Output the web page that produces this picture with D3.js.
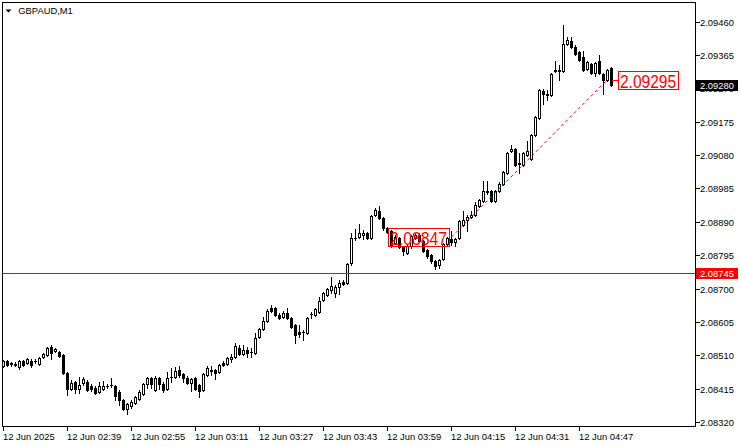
<!DOCTYPE html>
<html><head><meta charset="utf-8">
<script src="https://cdn.jsdelivr.net/npm/d3@7"></script>
<style>body{margin:0;background:#fff}svg{display:block}text{font-family:"Liberation Sans",Arial,sans-serif}</style>
</head><body><svg id="c" width="741" height="447"></svg>
<script>
const symbolTitle = "GBPAUD,M1";
const opens = [2.08480,2.08494,2.08489,2.08483,2.08477,2.08494,2.08489,2.08494,2.08493,2.08486,
2.08506,2.08512,2.08534,2.08523,2.08520,2.08512,2.08460,2.08415,2.08435,2.08415,
2.08432,2.08435,2.08423,2.08418,2.08406,2.08415,2.08422,2.08425,2.08423,2.08406,
2.08384,2.08358,2.08366,2.08375,2.08386,2.08401,2.08429,2.08446,2.08412,2.08446,
2.08429,2.08415,2.08449,2.08449,2.08469,2.08457,2.08446,2.08432,2.08446,2.08426,
2.08412,2.08455,2.08467,2.08469,2.08463,2.08489,2.08486,2.08500,2.08506,2.08531,
2.08514,2.08526,2.08520,2.08517,2.08563,2.08585,2.08608,2.08645,2.08645,2.08625,
2.08620,2.08631,2.08617,2.08597,2.08577,2.08577,2.08574,2.08627,2.08625,2.08634,
2.08668,2.08682,2.08696,2.08688,2.08705,2.08719,2.08716,2.08773,2.08843,2.08847,
2.08853,2.08858,2.08844,2.08910,2.08921,2.08901,2.08873,2.08864,2.08830,2.08844,
2.08819,2.08802,2.08822,2.08844,2.08853,2.08836,2.08810,2.08796,2.08779,2.08767,
2.08785,2.08827,2.08841,2.08833,2.08844,2.08881,2.08895,2.08904,2.08910,2.08935,
2.08949,2.08976,2.08978,2.08949,2.08978,2.08998,2.09029,2.09092,2.09097,2.09056,
2.09052,2.09080,2.09069,2.09137,2.09186,2.09262,2.09254,2.09251,2.09319,2.09319,
2.09319,2.09396,2.09404,2.09387,2.09373,2.09359,2.09325,2.09339,2.09313,2.09348,
2.09311,2.09294,2.09328];
const highs = [2.08497,2.08497,2.08492,2.08492,2.08497,2.08497,2.08503,2.08500,2.08500,2.08506,
2.08517,2.08534,2.08540,2.08531,2.08523,2.08514,2.08463,2.08440,2.08438,2.08449,
2.08449,2.08440,2.08429,2.08423,2.08435,2.08438,2.08429,2.08446,2.08426,2.08412,
2.08386,2.08375,2.08384,2.08395,2.08412,2.08432,2.08449,2.08449,2.08452,2.08449,
2.08435,2.08463,2.08475,2.08477,2.08480,2.08460,2.08452,2.08446,2.08449,2.08429,
2.08460,2.08480,2.08480,2.08472,2.08486,2.08494,2.08506,2.08514,2.08546,2.08540,
2.08540,2.08534,2.08531,2.08574,2.08588,2.08620,2.08642,2.08654,2.08648,2.08631,
2.08637,2.08645,2.08620,2.08600,2.08597,2.08583,2.08620,2.08634,2.08645,2.08676,
2.08691,2.08702,2.08733,2.08711,2.08725,2.08725,2.08773,2.08858,2.08870,2.08884,
2.08867,2.08861,2.08910,2.08930,2.08935,2.08904,2.08876,2.08867,2.08853,2.08847,
2.08822,2.08824,2.08853,2.08856,2.08858,2.08839,2.08813,2.08799,2.08782,2.08785,
2.08830,2.08847,2.08864,2.08844,2.08895,2.08921,2.08910,2.08921,2.08947,2.08955,
2.09006,2.09006,2.08981,2.08981,2.09003,2.09035,2.09089,2.09109,2.09100,2.09086,
2.09089,2.09120,2.09140,2.09191,2.09268,2.09268,2.09265,2.09313,2.09348,2.09336,
2.09450,2.09416,2.09416,2.09393,2.09376,2.09376,2.09348,2.09342,2.09345,2.09365,
2.09313,2.09325,2.09331];
const lows = [2.08477,2.08480,2.08480,2.08480,2.08472,2.08480,2.08486,2.08477,2.08489,2.08483,
2.08503,2.08509,2.08500,2.08520,2.08506,2.08457,2.08398,2.08412,2.08403,2.08403,
2.08426,2.08409,2.08409,2.08401,2.08403,2.08412,2.08418,2.08420,2.08384,2.08369,
2.08355,2.08344,2.08361,2.08372,2.08384,2.08398,2.08418,2.08418,2.08409,2.08415,
2.08406,2.08412,2.08435,2.08446,2.08449,2.08435,2.08429,2.08409,2.08412,2.08392,
2.08409,2.08452,2.08455,2.08443,2.08460,2.08480,2.08483,2.08492,2.08503,2.08512,
2.08512,2.08506,2.08506,2.08514,2.08560,2.08583,2.08605,2.08634,2.08622,2.08614,
2.08617,2.08614,2.08588,2.08546,2.08563,2.08554,2.08571,2.08617,2.08622,2.08631,
2.08665,2.08679,2.08688,2.08676,2.08685,2.08711,2.08713,2.08767,2.08839,2.08844,
2.08841,2.08841,2.08841,2.08907,2.08898,2.08867,2.08858,2.08819,2.08827,2.08816,
2.08796,2.08799,2.08816,2.08841,2.08833,2.08804,2.08787,2.08773,2.08756,2.08759,
2.08782,2.08824,2.08824,2.08822,2.08841,2.08878,2.08864,2.08901,2.08907,2.08932,
2.08947,2.08969,2.08947,2.08947,2.08975,2.08995,2.09026,2.09089,2.09049,2.09029,
2.09049,2.09077,2.09066,2.09134,2.09183,2.09225,2.09237,2.09248,2.09316,2.09294,
2.09316,2.09393,2.09385,2.09365,2.09348,2.09319,2.09322,2.09311,2.09305,2.09311,
2.09254,2.09291,2.09277];
const closes = [2.08494,2.08483,2.08486,2.08487,2.08494,2.08483,2.08500,2.08483,2.08494,2.08503,
2.08514,2.08531,2.08517,2.08529,2.08509,2.08460,2.08415,2.08432,2.08415,2.08426,
2.08443,2.08412,2.08415,2.08403,2.08423,2.08423,2.08423,2.08426,2.08395,2.08384,
2.08358,2.08372,2.08378,2.08392,2.08406,2.08429,2.08446,2.08429,2.08446,2.08429,
2.08412,2.08446,2.08450,2.08466,2.08455,2.08446,2.08432,2.08443,2.08415,2.08409,
2.08457,2.08475,2.08470,2.08460,2.08483,2.08483,2.08503,2.08506,2.08537,2.08514,
2.08526,2.08517,2.08521,2.08560,2.08585,2.08608,2.08637,2.08637,2.08625,2.08617,
2.08631,2.08617,2.08591,2.08568,2.08571,2.08578,2.08617,2.08628,2.08642,2.08665,
2.08688,2.08699,2.08708,2.08705,2.08716,2.08713,2.08770,2.08844,2.08844,2.08858,
2.08858,2.08844,2.08907,2.08924,2.08901,2.08873,2.08861,2.08824,2.08847,2.08819,
2.08807,2.08822,2.08850,2.08853,2.08836,2.08807,2.08793,2.08779,2.08765,2.08782,
2.08827,2.08844,2.08833,2.08841,2.08893,2.08895,2.08904,2.08910,2.08938,2.08952,
2.08978,2.08978,2.08949,2.08978,2.08998,2.09032,2.09086,2.09097,2.09052,2.09058,
2.09086,2.09092,2.09137,2.09188,2.09265,2.09254,2.09251,2.09311,2.09321,2.09321,
2.09396,2.09407,2.09387,2.09368,2.09350,2.09322,2.09345,2.09313,2.09342,2.09313,
2.09294,2.09322,2.09280];
const priceTicks = [2.09460,2.09365,2.09270,2.09175,2.09080,2.08985,2.08890,2.08795,2.08700,2.08605,2.08510,2.08415,2.08320];
const timeTickIndex = [0,16,32,48,64,80,96,112,128,144];
const timeTickLabels = ["12 Jun 2025","12 Jun 02:39","12 Jun 02:55","12 Jun 03:11","12 Jun 03:27","12 Jun 03:43","12 Jun 03:59","12 Jun 04:15","12 Jun 04:31","12 Jun 04:47"];
const bidPrice = 2.09280;
const levelPrice = 2.08745;
const trendIndex = [112,151];
const trendPrice = [2.08847,2.09295];

const svg = d3.select("#c");
const L = 2.5, T = 2.5, R = 695.5, B = 426.5;
const x = d3.scaleLinear().domain([0,152]).range([3.5,611.5]);
const y = d3.scaleLinear().domain([2.08320,2.09460]).range([422.3,21.5]);
const fmt = d3.format(".5f");
const ry = v => Math.round(y(v));

svg.append("defs").append("clipPath").attr("id","clip")
  .append("rect").attr("x",3).attr("y",3).attr("width",692).attr("height",423);

// frame
svg.append("rect").attr("x",L).attr("y",T).attr("width",R-L).attr("height",B-T)
  .attr("fill","none").attr("stroke","#000").attr("shape-rendering","crispEdges");

// title
svg.append("path").attr("d","M5.5,9.5 L11.5,9.5 L8.5,12.5 Z").attr("fill","#000");
svg.append("text").attr("x",18.3).attr("y",14).attr("font-size",9.4).attr("fill","#000").text(symbolTitle);

const plot = svg.append("g").attr("clip-path","url(#clip)");

// labels on chart (behind candles)
const lab1 = {x0:388.5, w:61, p:trendPrice[0]};
const lab2 = {x0:618.5, w:60, p:trendPrice[1]};
[lab1, lab2].forEach(l => {
  const cy = y(l.p);
  svg.append("rect").attr("x",l.x0).attr("y",Math.round(cy-9)+0.5).attr("width",l.w).attr("height",18)
    .attr("fill","none").attr("stroke","#ff0000").attr("shape-rendering","crispEdges");
  svg.append("text").attr("x",l.x0+1.5).attr("y",Math.round(cy)+7.5).attr("font-size",19)
    .attr("fill","#ff0000").attr("textLength",l.w-4).attr("lengthAdjust","spacingAndGlyphs").text(fmt(l.p));
});

// candles
const idx = d3.range(opens.length);
const g = plot.append("g").attr("shape-rendering","crispEdges");
idx.forEach(i => {
  const cx = x(i);
  g.append("line").attr("x1",cx).attr("x2",cx).attr("y1",ry(highs[i])).attr("y2",ry(lows[i])+1).attr("stroke","#000");
  const up = closes[i] >= opens[i];
  const yt = ry(Math.max(opens[i],closes[i])), yb = ry(Math.min(opens[i],closes[i]));
  if (yb - yt < 1) {
    g.append("rect").attr("x",cx-1.5).attr("y",yt).attr("width",3).attr("height",1).attr("fill","#000");
  } else if (up) {
    g.append("rect").attr("x",cx-1).attr("y",yt+0.5).attr("width",2).attr("height",yb-yt)
      .attr("fill","#fff").attr("stroke","#000");
  } else {
    g.append("rect").attr("x",cx-1.5).attr("y",yt).attr("width",3).attr("height",yb-yt+1).attr("fill","#000");
  }
});

// horizontal level line
plot.append("line").attr("x1",3).attr("x2",695).attr("y1",ry(levelPrice)+0.5).attr("y2",ry(levelPrice)+0.5)
  .attr("stroke","#ff0000").attr("shape-rendering","crispEdges");

// trend dashed line
plot.append("line").attr("x1",x(trendIndex[0])).attr("y1",y(trendPrice[0]))
  .attr("x2",x(trendIndex[1])).attr("y2",y(trendPrice[1]))
  .attr("stroke","#ff0000").attr("stroke-dasharray","3,3");
svg.append("line").attr("x1",x(trendIndex[1])+4).attr("x2",618.5)
  .attr("y1",ry(trendPrice[1])+0.5).attr("y2",ry(trendPrice[1])+0.5)
  .attr("stroke","#ff0000").attr("shape-rendering","crispEdges");

// price axis
const pa = svg.append("g");
priceTicks.forEach(p => {
  const yy = ry(p);
  pa.append("line").attr("x1",696).attr("x2",700).attr("y1",yy+0.5).attr("y2",yy+0.5)
    .attr("stroke","#000").attr("shape-rendering","crispEdges");
  pa.append("text").attr("x",700).attr("y",yy+4).attr("font-size",9.4).attr("fill","#000").text(fmt(p));
});
// bid label
[[bidPrice,"#000"],[levelPrice,"#ff0000"]].forEach(([p,c]) => {
  const yy = ry(p);
  pa.append("rect").attr("x",696).attr("y",yy-5).attr("width",42).attr("height",11).attr("fill",c);
  pa.append("text").attr("x",700).attr("y",yy+4).attr("font-size",9.4).attr("fill","#fff").text(fmt(p));
});

// time axis
const ta = svg.append("g");
timeTickIndex.forEach((ti,k) => {
  const xx = x(ti);
  ta.append("line").attr("x1",xx).attr("x2",xx).attr("y1",427).attr("y2",431)
    .attr("stroke","#000").attr("shape-rendering","crispEdges");
  ta.append("text").attr("x",xx-0.5).attr("y",439.5).attr("font-size",9.4).attr("fill","#000").text(timeTickLabels[k]);
});
</script></body></html>
